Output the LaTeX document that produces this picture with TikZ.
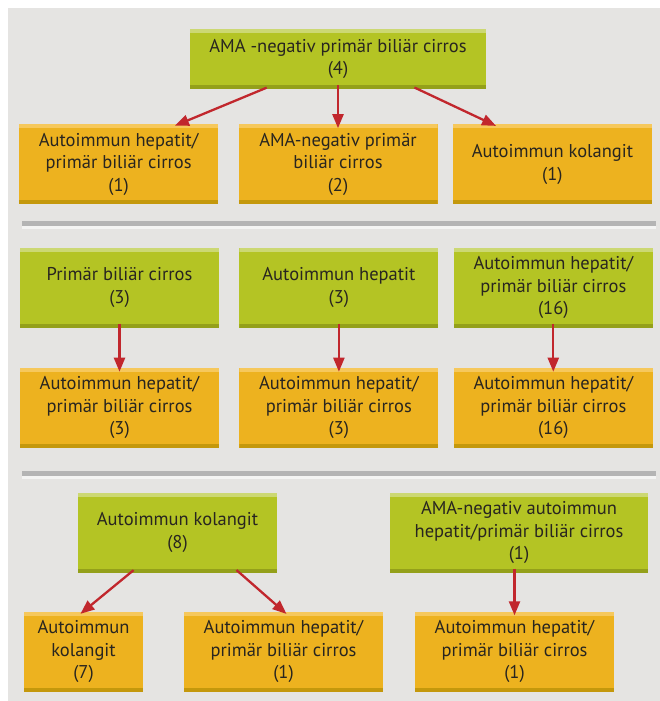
\documentclass[tikz,border=0pt]{standalone}
\usepackage{fontspec}
\setmainfont{PT Sans}
\usetikzlibrary{arrows.meta, positioning}

\definecolor{bggray}{RGB}{229,228,226}
\definecolor{leafgreen}{RGB}{180,196,36}
\definecolor{leafgreenlt}{RGB}{204,216,115}
\definecolor{leafgreendk}{RGB}{148,160,26}
\definecolor{amber}{RGB}{237,178,31}
\definecolor{amberlt}{RGB}{246,200,92}
\definecolor{amberdk}{RGB}{196,152,12}
\definecolor{arrred}{RGB}{193,39,45}
\definecolor{textgray}{RGB}{40,37,32}
\definecolor{sepdark}{RGB}{180,180,180}
\definecolor{seplight}{RGB}{244,244,243}

\begin{document}
\begin{tikzpicture}[
    x=1pt, y=-1pt,
    every node/.style={font=\fontsize{18.5}{22.5}\selectfont, text=textgray},
    box/.style={rectangle, inner sep=0pt, align=center, minimum width=199pt, minimum height=80pt},
    diag/.style={box, fill=leafgreen, path picture={
        \fill[leafgreenlt] (path picture bounding box.north west) rectangle ([yshift=-4pt]path picture bounding box.north east);
        \fill[leafgreendk] (path picture bounding box.south west) rectangle ([yshift=4pt]path picture bounding box.south east);}},
    final/.style={box, fill=amber, path picture={
        \fill[amberlt] (path picture bounding box.north west) rectangle ([yshift=-4pt]path picture bounding box.north east);
        \fill[amberdk] (path picture bounding box.south west) rectangle ([yshift=4pt]path picture bounding box.south east);}},
    arr/.style={-{Triangle[length=14pt, width=11pt]}, line width=2.3pt, draw=arrred, shorten <=-4pt, shorten >=-4pt}
]

\useasboundingbox (0,0) rectangle (660,701);
\fill[bggray] (8,8) rectangle (660,701);

% first group
\node[diag, minimum width=296pt, minimum height=60pt] (ama) at (338,59) {AMA -negativ primär biliär cirros\\(4)};
\node[final, below=35pt of ama] (amapbc) {AMA-negativ primär\\biliär cirros\\(2)};
\node[final, left=20pt of amapbc] (ahpbcA) {Autoimmun hepatit/\\primär biliär cirros\\(1)};
\node[final, right=15pt of amapbc] (akA) {Autoimmun kolangit\\(1)};

\draw[arr] ([xshift=-75pt]ama.south) -- ([xshift=60pt]ahpbcA.north);
\draw[arr] (ama.south) -- (amapbc.north);
\draw[arr] ([xshift=80pt]ama.south) -- ([xshift=-60pt]akA.north);

\fill[sepdark] (22,221) rectangle (656,225.5);
\fill[seplight] (22,225.5) rectangle (656,229);

% second group
\node[diag] (pbc) at (119.5,287.5) {Primär biliär cirros\\(3)};
\node[diag, right=20pt of pbc] (ah) {Autoimmun hepatit\\(3)};
\node[diag, right=15pt of ah] (ahpbc) {Autoimmun hepatit/\\primär biliär cirros\\(16)};
\node[final, below=40pt of pbc] (ahpbcB) {Autoimmun hepatit/\\primär biliär cirros\\(3)};
\node[final, below=40pt of ah] (ahpbcC) {Autoimmun hepatit/\\primär biliär cirros\\(3)};
\node[final, below=40pt of ahpbc] (ahpbcD) {Autoimmun hepatit/\\primär biliär cirros\\(16)};

\draw[arr] (pbc) -- (ahpbcB);
\draw[arr] (ah) -- (ahpbcC);
\draw[arr] (ahpbc) -- (ahpbcD);

\fill[sepdark] (22,471) rectangle (656,475.5);
\fill[seplight] (22,475.5) rectangle (656,479);

% third group
\node[diag] (ak) at (177.5,532.5) {Autoimmun kolangit\\(8)};
\node[diag, minimum width=258pt] (amaahpbc) at (519,532.5) {AMA-negativ autoimmun\\hepatit/primär biliär cirros\\(1)};
\node[final, minimum width=119pt] (akB) at (83.5,651.5) {Autoimmun\\kolangit\\(7)};
\node[final] (ahpbcE) at (283.5,651.5) {Autoimmun hepatit/\\primär biliär cirros\\(1)};
\node[final] (ahpbcF) at (514.5,651.5) {Autoimmun hepatit/\\primär biliär cirros\\(1)};

\draw[arr] ([xshift=-47pt]ak.south) -- (akB.north);
\draw[arr] ([xshift=62pt]ak.south) -- (ahpbcE.north);
\draw[arr] (ahpbcF.north |- amaahpbc.south) -- (ahpbcF.north);

\end{tikzpicture}
\end{document}
